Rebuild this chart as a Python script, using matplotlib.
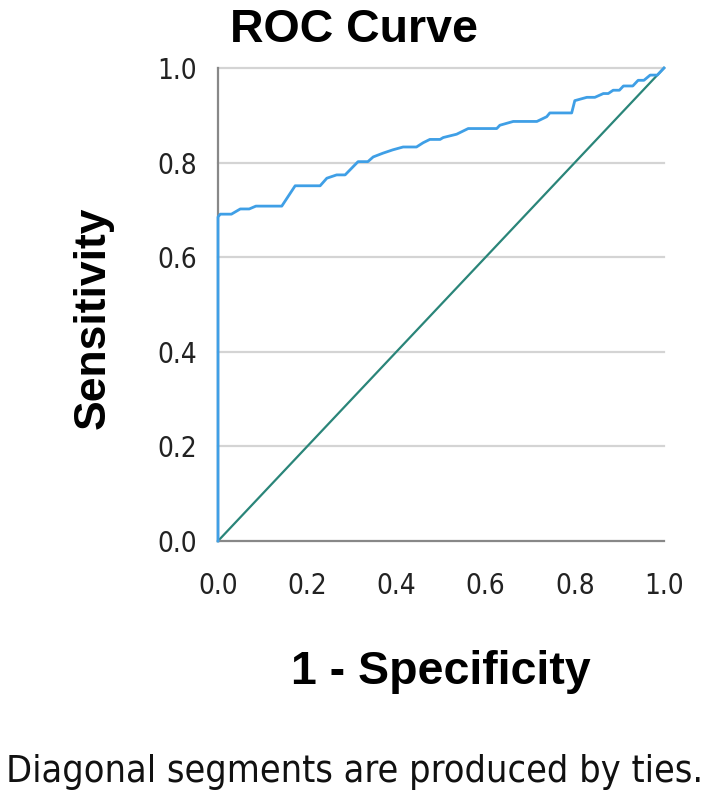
import matplotlib
matplotlib.use("Agg")
import matplotlib.pyplot as plt
from matplotlib import font_manager
from matplotlib.font_manager import FontProperties

# ROC curve vertices (1 - specificity, sensitivity)
fpr = [0.0, 0.0, 0.005, 0.03, 0.05, 0.07, 0.085, 0.143, 0.173, 0.229, 0.244, 0.266,
       0.285, 0.314, 0.336, 0.348, 0.370, 0.392, 0.415, 0.445, 0.460, 0.475, 0.498,
       0.505, 0.535, 0.561, 0.625, 0.632, 0.662, 0.715, 0.737, 0.744, 0.793, 0.800,
       0.827, 0.845, 0.864, 0.875, 0.886, 0.900, 0.909, 0.930, 0.942, 0.955, 0.969,
       0.985, 1.0]
tpr = [0.0, 0.685, 0.691, 0.691, 0.702, 0.702, 0.708, 0.708, 0.751, 0.751, 0.767, 0.774,
       0.774, 0.802, 0.802, 0.812, 0.820, 0.827, 0.833, 0.833, 0.842, 0.849, 0.849,
       0.853, 0.860, 0.872, 0.872, 0.879, 0.887, 0.887, 0.897, 0.905, 0.905, 0.931,
       0.938, 0.938, 0.946, 0.946, 0.953, 0.953, 0.962, 0.962, 0.974, 0.974, 0.985,
       0.985, 1.0]
ref_x = [0.0, 1.0]
ref_y = [0.0, 1.0]
ticks = [0.0, 0.2, 0.4, 0.6, 0.8, 1.0]
tick_labels = ["0.0", "0.2", "0.4", "0.6", "0.8", "1.0"]

# find a condensed / narrow font if available
cond_file = None
for f in font_manager.fontManager.ttflist:
    fn = f.fname.lower()
    if ("condensed" in fn or "narrow" in fn) and "bold" not in fn and "oblique" not in fn \
            and "italic" not in fn and "light" not in fn:
        cond_file = f.fname
        if "dejavusanscondensed" in fn.replace("-", "").replace("_", ""):
            break

def narrow_fp(size):
    if cond_file:
        return FontProperties(fname=cond_file, size=size)
    return FontProperties(family="DejaVu Sans", size=size)

fig = plt.figure(figsize=(7.09, 8.05), dpi=100)
ax = fig.add_axes([218/709, 1 - 541/805, (664-218)/709, (541-68)/805])

ax.set_xlim(0, 1)
ax.set_ylim(0, 1)
for t in ticks[1:]:
    ax.axhline(t, color="#d4d4d4", lw=1.6, zorder=0, clip_on=False)

ax.plot(ref_x, ref_y, color="#2a8579", lw=1.6, zorder=2, clip_on=False)
ax.plot(fpr, tpr, color="#3f9fe6", lw=2.0, zorder=3, clip_on=False)

for s in ["top", "right"]:
    ax.spines[s].set_visible(False)
for s in ["left", "bottom"]:
    ax.spines[s].set_color("#888888")
    ax.spines[s].set_linewidth(1.6)

ax.set_xticks(ticks)
ax.set_yticks(ticks)
ax.set_xticklabels(tick_labels, fontproperties=narrow_fp(20), color="#222222")
ax.set_yticklabels(tick_labels, fontproperties=narrow_fp(20), color="#222222")
ax.tick_params(axis="x", length=0, pad=22)
ax.tick_params(axis="y", length=0, pad=15)

fig.text(354/709, 1 - 30/805, "ROC Curve", ha="center", va="center",
         fontsize=33.5, family="Liberation Sans", fontweight="bold")
fig.text(441/709, 1 - 672/805, "1 - Specificity", ha="center", va="center",
         fontsize=33.5, family="Liberation Sans", fontweight="bold")
fig.text(93/709, 1 - 318/805, "Sensitivity", ha="center", va="center", rotation=90,
         fontsize=32, family="Liberation Sans", fontweight="bold")
foot = fig.text(355/709, 1 - 772/805, "Diagonal segments are produced by ties.", ha="center",
                va="center", fontproperties=narrow_fp(26), color="#111111")

# fit footnote width to ~700 px
r = fig.canvas.get_renderer()
w = foot.get_window_extent(r).width
foot.set_fontsize(26 * 698 / w)

fig.savefig("out.png", dpi=100)
